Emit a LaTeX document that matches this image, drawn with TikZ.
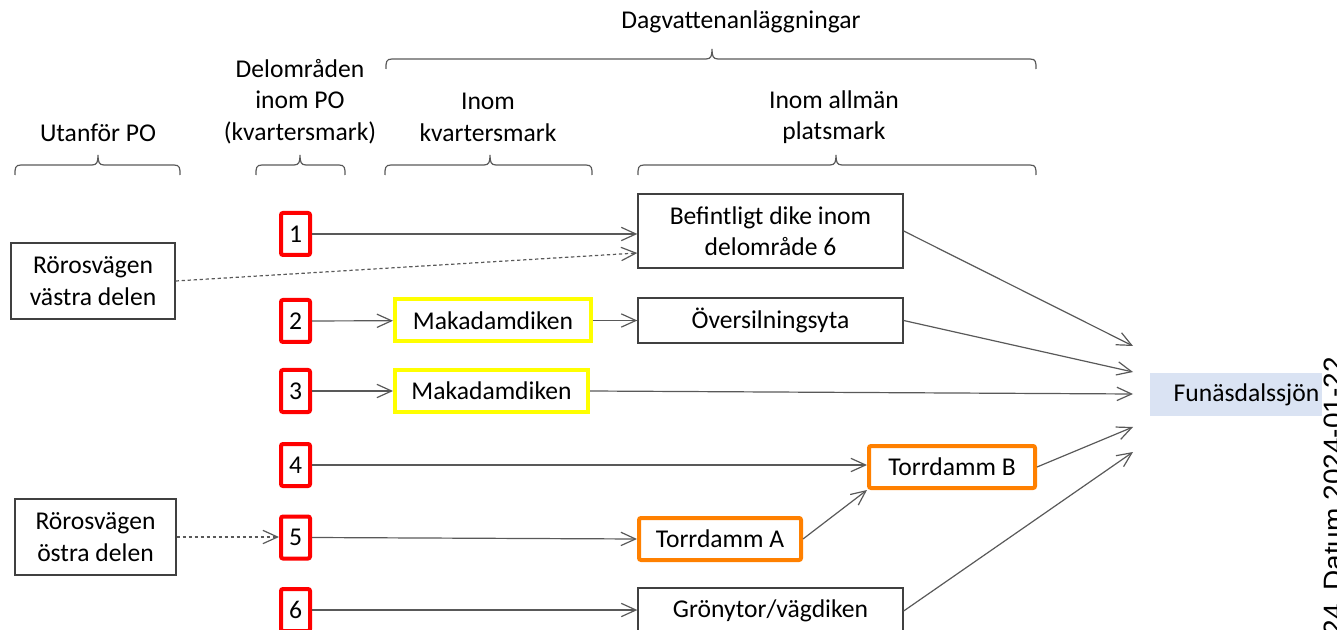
\documentclass[tikz,border=0pt]{standalone}
\usepackage{fontspec}
\setmainfont{Carlito}
\newfontfamily\arialf{Liberation Sans}
\usetikzlibrary{arrows.meta,calc}
\definecolor{lg}{HTML}{595959}
\definecolor{bx}{HTML}{404040}
\definecolor{rd}{HTML}{FF0000}
\definecolor{yl}{HTML}{FFFF00}
\definecolor{og}{HTML}{FF8000}
\definecolor{lb}{HTML}{DAE3F3}
\newcommand{\hbr}[4]{%
  \draw[brc] (#1,#4+10) .. controls (#1,#4+3) and (#1,#4) .. (#1+6,#4) -- (#3-6,#4)
    .. controls (#3-1,#4) and (#3,#4-3) .. (#3,#4-10)
    .. controls (#3,#4-3) and (#3+1,#4) .. (#3+6,#4) -- (#2-6,#4)
    .. controls (#2,#4) and (#2,#4+3) .. (#2,#4+10);}
\begin{document}
\begin{tikzpicture}[x=0.75pt,y=-0.75pt,
  font=\fontsize{19.2}{23.5}\selectfont,
  gbox/.style={draw=bx, line width=1pt, inner sep=0pt, align=center, text=black, minimum width=198.75pt},
  rbox/.style={draw=rd, line width=3pt, rounded corners=1.5pt, inner sep=0pt, minimum width=21.75pt, minimum height=31.5pt},
  ybox/.style={draw=yl, line width=3pt, inner sep=0pt, minimum height=31.5pt},
  obox/.style={draw=og, line width=3pt, rounded corners=1.5pt, inner sep=0pt, minimum height=31.5pt},
  arr/.style={draw=lg, line width=0.9pt, -{Straight Barb[length=11pt,width=10pt]}},
  dsh/.style={arr, dash pattern=on 2.5pt off 2pt},
  brc/.style={draw=lg, line width=0.9pt},
  hd/.style={align=center, inner sep=0pt, text=black}]
\clip (0,0) rectangle (1337,630);

% headers
\node[hd] (hdag) at (741,22) {Dagvattenanläggningar};
\node[hd] (hut) at (98,133) {Utanför PO};
\node[hd] (hdel) at (300,101.5) {Delområden\\inom PO\\(kvartersmark)};
\node[hd] (hik) at (488,117.5) {Inom\\kvartersmark};
\node[hd] (hia) at (834,117.5) {Inom allmän\\platsmark};

\hbr{15}{180}{98}{165}
\hbr{256}{345}{300}{165}
\hbr{385}{592}{490}{165}
\hbr{638}{1036}{836}{165}
\hbr{386}{1036}{712}{59}

% left boxes
\node[gbox, minimum width=123pt, minimum height=57pt] (vas) at (93,281) {Rörosvägen\\västra delen};
\node[gbox, minimum width=120.75pt, minimum height=57pt] (ost) at (95.5,537) {Rörosvägen\\östra delen};

% numbered boxes
\node[rbox] (n1) at (295.5,234) {1};
\node[rbox] (n2) at (295.5,321) {2};
\node[rbox] (n3) at (295.5,391) {3};
\node[rbox] (n4) at (295.5,465) {4};
\node[rbox] (n5) at (295.5,537.5) {5};
\node[rbox] (n6) at (295.5,610) {6};

% facilities
\node[ybox, minimum width=147pt] (mak1) at (493,320.5) {Makadamdiken};
\node[ybox, minimum width=144.75pt] (mak2) at (491.5,391) {Makadamdiken};
\node[gbox, minimum height=55.5pt] (bef) at (770.5,231) {Befintligt dike inom\\delområde 6};
\node[gbox, minimum height=33.75pt] (ovs) at (770.5,320.5) {Översilningsyta};
\node[obox, minimum width=124.5pt] (tb) at (952,467) {Torrdamm B};
\node[obox, minimum width=121.5pt] (ta) at (720,539) {Torrdamm A};
\node[gbox, minimum height=34.5pt] (gr) at (770.5,611) {Grönytor/vägdiken};

% recipient
\node[fill=lb, minimum width=129pt, minimum height=32.25pt, text width=125pt, align=right, inner xsep=2pt, inner ysep=0pt, text=black] (fun) at (1236,394.5) {Funäsdalssjön};

\coordinate (f1) at (1133,346);
\coordinate (f2) at (1133,372);
\coordinate (f3) at (1133,394);
\coordinate (f4) at (1133,427);
\coordinate (f5) at (1133,452);

% rotated side text
\node[rotate=90, anchor=north east, inner sep=0pt, font=\arialf\fontsize{21}{25}\selectfont, text=black] (dat) at (1324,357) {Datum 2024-01-22};
\node[rotate=90, anchor=north east, inner sep=0pt, font=\arialf\fontsize{21}{25}\selectfont, text=black] (d24) at (1324,604) {24};

% connectors
\draw[arr] (n1) -- (n1 -| bef.west);
\draw[dsh] (vas.east) -- ($(bef.west)+(0,22)$);
\draw[arr] (n2) -- (mak1);
\draw[arr] (mak1) -- (ovs);
\draw[arr] (n3.east) -- (mak2.west);
\draw[arr] (mak2.east) -- (f3);
\draw[arr] (n4) -- (n4 -| tb.west);
\draw[dsh] (ost.east) -- (ost.east -| n5.west);
\draw[arr] (n5.east) -- (ta.west);
\draw[arr] (ta.east) -- (tb.south west);
\draw[arr] (n6) -- (n6 -| gr.west);
\draw[arr] (bef.east) -- (f1);
\draw[arr] (ovs.east) -- (f2);
\draw[arr] (tb.east) -- (f4);
\draw[arr] (gr.east) -- (f5);
\end{tikzpicture}
\end{document}
